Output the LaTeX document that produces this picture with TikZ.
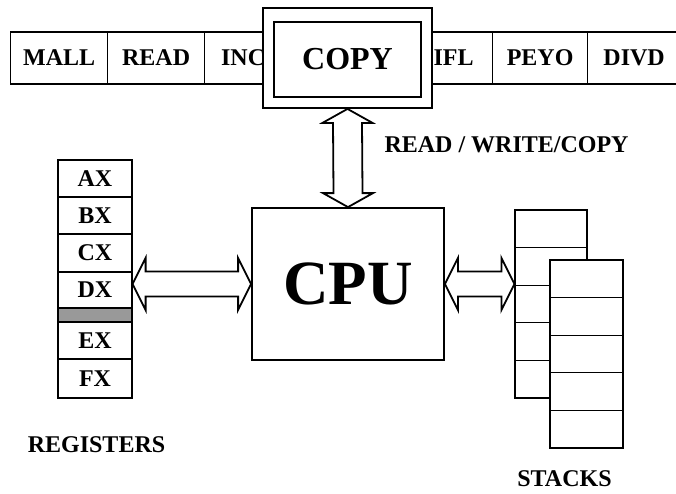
\documentclass[tikz,border=0pt]{standalone}
\usepackage{fontspec}
\setmainfont{Liberation Serif}
\usetikzlibrary{calc}

% fat double-headed arrows (left to right, top to bottom)
\newcommand\hfat[2]{%
  \draw[fatline] (#1) -- ++(13,-26) -- ++(0,13.5)
    -- ($(#2)+(-13,-12.5)$) -- ++(0,-13.5) -- (#2)
    -- ++(-13,26) -- ++(0,-13.5) -- ($(#1)+(13,12.5)$)
    -- ++(0,13.5) -- cycle;}
\newcommand\vfat[2]{%
  \draw[fatline] (#1) -- ++(-25,14) -- ++(10.5,0)
    -- ($(#2)+(-14.5,-14)$) -- ++(-10.5,0) -- (#2)
    -- ++(25,-14) -- ++(-10.5,0) -- ($(#1)+(14.5,14)$)
    -- ++(10.5,0) -- cycle;}

\begin{document}
\begin{tikzpicture}[x=1pt, y=-1pt,
  lbl/.style={font=\bfseries\fontsize{24}{28}\selectfont},
  cell/.style={draw, line width=1.2pt, fill=white, inner sep=0pt, lbl},
  box/.style={draw, line width=1.8pt, fill=white, inner sep=0pt},
  fatline/.style={draw, line width=1.8pt, fill=white}]

  \useasboundingbox (0,0) rectangle (676,493);

  % instruction bar
  \foreach \name/\x/\w in {MALL/10/97, READ/107/97, INC/204/77,
                           IFL/414/78, PEYO/492/95, DIVD/587/93}
    \node[cell, anchor=west, minimum width=\w, minimum height=52]
      (\name) at (\x,58) {\name};

  % the instruction being fetched
  \node[box, minimum width=169, minimum height=100] (copyout) at (347.5,58) {};
  \node[box, minimum width=147, minimum height=75,
        font=\bfseries\fontsize{32}{36}\selectfont] (copy) at (347.5,59.5) {COPY};

  % processor
  \node[box, minimum width=192, minimum height=152,
        font=\bfseries\fontsize{63}{70}\selectfont] (cpu) at (348,284) {CPU};

  % registers
  \foreach \name/\y/\h in {AX/178.5/37, BX/215.5/37, CX/253/38, DX/290/36,
                           EX/340.5/37, FX/378.5/39}
    \node[cell, minimum width=74, minimum height=\h] (\name) at (95,\y) {\name};
  \node[cell, fill=black!40, minimum width=74, minimum height=14] (spare) at (95,315) {};

  % stacks
  \foreach \i in {0,...,4}
    \node[cell, minimum width=72, minimum height=37.6] (back\i) at (551,228.8+37.6*\i) {};
  \foreach \i in {0,...,4}
    \node[cell, minimum width=73, minimum height=37.6] (front\i) at (586.5,278.8+37.6*\i) {};

  % data paths
  \vfat{copyout.south}{cpu.north}
  \hfat{cpu.west -| DX.east}{cpu.west}
  \hfat{cpu.east}{cpu.east -| back2.west}

  % labels
  \node[lbl, anchor=west] (rwc) at (381,145) {READ / WRITE/COPY};
  \node[lbl] (regs) at (96.5,445) {REGISTERS};
  \node[lbl] (stacks) at (564.5,478.5) {STACKS};
\end{tikzpicture}
\end{document}
